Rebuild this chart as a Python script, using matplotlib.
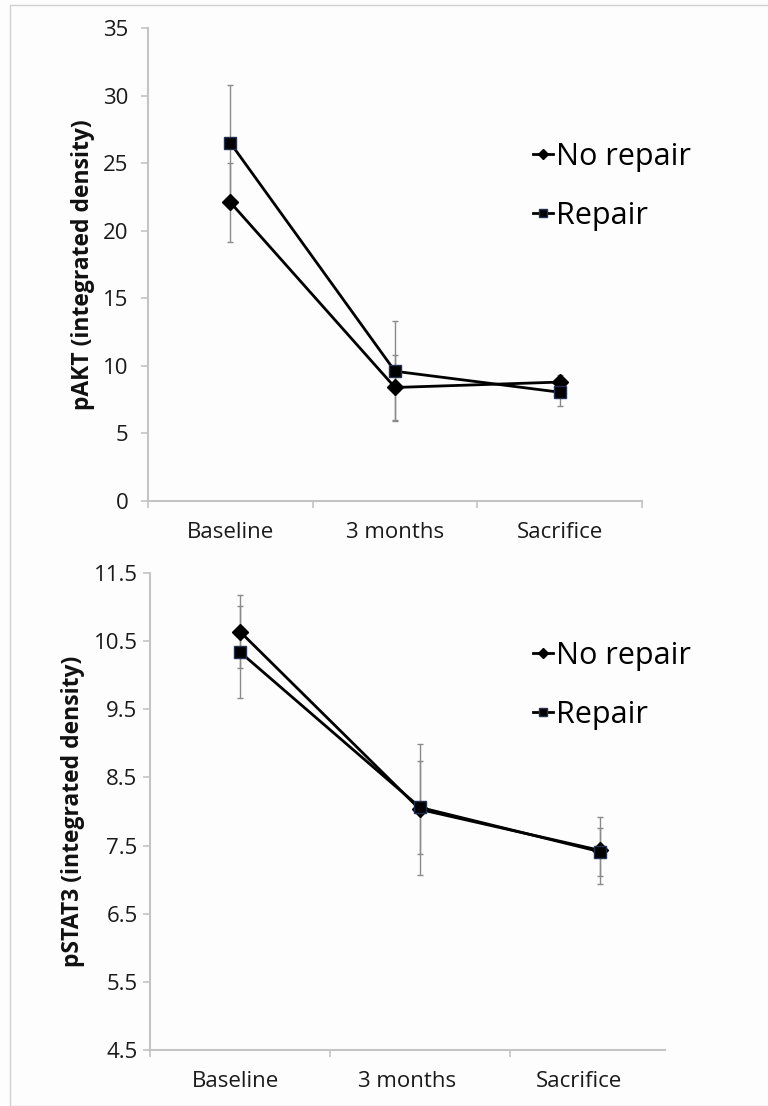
import matplotlib
matplotlib.use('Agg')
import matplotlib.pyplot as plt
from matplotlib.patches import Rectangle

plt.rcParams['font.family'] = ['Open Sans', 'DejaVu Sans']

timepoints = ['Baseline', '3 months', 'Sacrifice']

# pAKT (integrated density)
akt_no_repair = [22.1, 8.4, 8.8]
akt_no_repair_err = [2.9, 2.4, 0.5]
akt_repair = [26.5, 9.6, 8.05]
akt_repair_err = [4.3, 3.7, 1.05]

# pSTAT3 (integrated density)
stat3_no_repair = [10.64, 8.03, 7.43]
stat3_no_repair_err = [0.53, 0.96, 0.49]
stat3_repair = [10.34, 8.06, 7.41]
stat3_repair_err = [0.68, 0.68, 0.35]

W, H = 768, 1106
fig = plt.figure(figsize=(W / 100, H / 100), dpi=100)
fig.patch.set_facecolor('#fdfdfd')
fig.add_artist(Rectangle((10 / W, 0), 1.0, 1 - 5 / H, transform=fig.transFigure,
                         facecolor='none', edgecolor='#d0d0d0', linewidth=1.0))

spine_col = '#c4c4c4'
text_col = '#1a1a1a'


def draw_panel(ax, no_rep, no_rep_err, rep, rep_err, ylim, yticks, ylabel,
               spine_end, ytick_pad, legend_xy):
    x = range(len(timepoints))
    ax.set_facecolor('#fdfdfd')
    ax.errorbar(x, no_rep, yerr=no_rep_err, fmt='none', ecolor='#8a8a8a',
                elinewidth=1.0, capsize=2.5, capthick=1.0, zorder=1)
    ax.errorbar(x, rep, yerr=rep_err, fmt='none', ecolor='#8a8a8a',
                elinewidth=1.0, capsize=2.5, capthick=1.0, zorder=1)
    ax.plot(x, no_rep, color='black', linewidth=2.0, marker='D', markersize=8,
            markerfacecolor='black', markeredgecolor='black', label='No repair', zorder=3)
    ax.plot(x, rep, color='black', linewidth=2.0, marker='s', markersize=8,
            markerfacecolor='black', markeredgecolor='#23304f', label='Repair', zorder=3)

    ax.set_xlim(-0.5, 2.5)
    ax.set_ylim(*ylim)
    ax.set_yticks(yticks)
    ax.set_yticklabels([('%g' % v) for v in yticks])
    # category boundaries carry the tick marks; labels sit centred in the
    # slots of the drawn (possibly shortened) axis line
    ax.set_xticks([-0.5, 0.5, 1.5, 2.5] if spine_end >= 2.5 else [-0.5, 0.5, 1.5])
    ax.set_xticklabels([])
    n = len(timepoints)
    slot = (spine_end + 0.5) / n
    ax.set_xticks([-0.5 + slot * (i + 0.5) for i in range(n)], minor=True)
    ax.set_xticklabels(timepoints, minor=True)
    ax.tick_params(axis='x', which='minor', length=0, pad=15, labelsize=16, labelcolor=text_col)
    ax.tick_params(axis='x', which='major', length=5, color=spine_col, width=1.2)
    ax.tick_params(axis='y', length=5, color=spine_col, width=1.2, labelsize=16,
                   labelcolor=text_col, pad=ytick_pad)

    for s in ['top', 'right']:
        ax.spines[s].set_visible(False)
    for s in ['left', 'bottom']:
        ax.spines[s].set_color(spine_col)
        ax.spines[s].set_linewidth(1.5)
    ax.spines['bottom'].set_bounds(-0.5, spine_end)

    ax.set_ylabel(ylabel, fontsize=16.5, fontweight='bold', color='#111111', labelpad=6)

    ax.legend(loc='upper left', bbox_to_anchor=legend_xy, frameon=False, fontsize=22,
              handlelength=0.65, handletextpad=0.1, labelspacing=0.95, markerscale=0.7,
              borderpad=0, borderaxespad=0)


ax1 = fig.add_axes([148 / W, 1 - 501 / H, (642 - 148) / W, (501 - 28) / H])
draw_panel(ax1, akt_no_repair, akt_no_repair_err, akt_repair, akt_repair_err,
           (0, 35), [0, 5, 10, 15, 20, 25, 30, 35], 'pAKT (integrated density)', 2.5, 9,
           ((533 - 148) / (642 - 148), (501 - 142) / (501 - 28)))

ax2 = fig.add_axes([150 / W, 1 - 1050 / H, (690 - 150) / W, (1050 - 573) / H])
draw_panel(ax2, stat3_no_repair, stat3_no_repair_err, stat3_repair, stat3_repair_err,
           (4.5, 11.5), [4.5, 5.5, 6.5, 7.5, 8.5, 9.5, 10.5, 11.5],
           'pSTAT3 (integrated density)', 2.36, 4,
           ((533 - 150) / (690 - 150), (1050 - 641) / (1050 - 573)))

fig.savefig('out.png', dpi=100, facecolor=fig.get_facecolor())
